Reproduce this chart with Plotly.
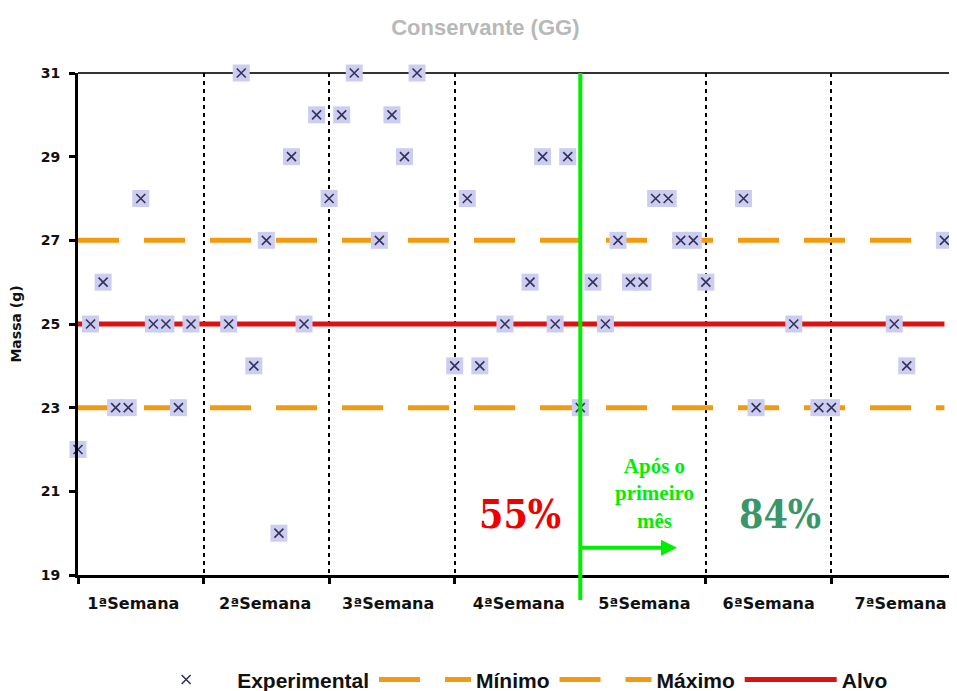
import plotly.graph_objects as go

# amostras (0..69), 10 por semana; None = sem ponto
SAMPLE_IDX = list(range(70))
MASSA = [
    22, 25, 26, 23, 23, 28, 25, 25, 23, 25,
    None, None, 25, 31, 24, 27, 20, 29, 25, 30,
    28, 30, 31, None, 27, 30, 29, 31, None, None,
    24, 28, 24, None, 25, None, 26, 29, 25, 29,
    23, 26, 25, 27, 26, 26, 28, 28, 27, 27,
    26, None, None, 28, 23, None, None, 25, None, 23,
    23, None, None, None, None, 25, 24, None, None, 27,
]
WEEK_LABELS = ["1ªSemana", "2ªSemana", "3ªSemana", "4ªSemana",
               "5ªSemana", "6ªSemana", "7ªSemana"]
WEEK_CENTERS = [4.4, 14.9, 24.7, 35.1, 45.1, 55, 65.5]
MINIMO = 23
MAXIMO = 27
ALVO = 25
SPLIT_AT = 40  # inicio da 5ª semana
PCT_ANTES = "55%"
PCT_DEPOIS = "84%"

X_RANGE = [0, 70]
n = len(SAMPLE_IDX)

fig = go.Figure()

orange = "#f29b11"
fig.add_trace(go.Scatter(x=SAMPLE_IDX, y=[MINIMO] * n, mode="lines", name="Mínimo",
                         line=dict(color=orange, width=5, dash="41px,25px"), legendrank=2))
fig.add_trace(go.Scatter(x=SAMPLE_IDX, y=[MAXIMO] * n, mode="lines", name="Máximo",
                         line=dict(color=orange, width=5, dash="41px,25px"), legendrank=3))
fig.add_trace(go.Scatter(x=SAMPLE_IDX, y=[ALVO] * n, mode="lines", name="Alvo",
                         line=dict(color="#dd1111", width=5), legendrank=4))

# quadrado lilas por baixo + x escuro
fig.add_trace(go.Scatter(x=SAMPLE_IDX, y=MASSA, mode="markers", showlegend=False,
                         cliponaxis=False,
                         marker=dict(symbol="square", size=17, color="#cdcdf2",
                                     line=dict(width=0)), hoverinfo="skip"))
fig.add_trace(go.Scatter(x=SAMPLE_IDX, y=MASSA, mode="markers", name="Experimental",
                         cliponaxis=False,
                         marker=dict(symbol="x-thin", size=9, color="#33335a",
                                     line=dict(width=1.6, color="#33335a")),
                         legendrank=1))

xp = (SPLIT_AT - X_RANGE[0]) / (X_RANGE[1] - X_RANGE[0])
# linha verde vertical
fig.add_shape(type="line", xref="paper", yref="paper", x0=xp, x1=xp, y0=-0.05, y1=1,
              line=dict(color="#00ee00", width=4), layer="above")
# borda superior
fig.add_shape(type="line", xref="paper", yref="paper", x0=0, x1=1, y0=1, y1=1,
              line=dict(color="#333333", width=2), layer="below")

fig.add_annotation(x=SPLIT_AT + 7.7, y=19.65, ax=SPLIT_AT, ay=19.65, xref="x", yref="y",
                   axref="x", ayref="y", text="", showarrow=True, arrowhead=2,
                   arrowsize=0.8, arrowwidth=4, arrowcolor="#00ee00")
fig.add_annotation(x=SPLIT_AT + 5.9, y=20.95, xref="x", yref="y", showarrow=False,
                   text="<b>Após o<br>primeiro<br>mês</b>",
                   font=dict(family="Liberation Serif", size=21, color="#00ee00"))
fig.add_annotation(x=35.2, y=20.45, xref="x", yref="y", showarrow=False,
                   text="<b>" + PCT_ANTES + "</b>",
                   font=dict(family="DejaVu Serif Condensed, DejaVu Serif", size=39,
                             color="#ee0000"))
fig.add_annotation(x=55.9, y=20.45, xref="x", yref="y", showarrow=False,
                   text="<b>" + PCT_DEPOIS + "</b>",
                   font=dict(family="DejaVu Serif Condensed, DejaVu Serif", size=39,
                             color="#3a9568"))

# a página tem 8px de margem no body: figura um pouco menor
fig.update_layout(
    width=949, height=683,
    margin=dict(l=70, r=0, t=65, b=116, autoexpand=False),
    paper_bgcolor="white", plot_bgcolor="white",
    title=dict(text="<b>Conservante (GG)</b>", x=0.503, xanchor="center", y=0.972,
               yanchor="middle",
               font=dict(family="Liberation Sans Narrow, Liberation Sans", size=22,
                         color="#b8b8b8")),
    legend=dict(orientation="h", x=0.065, xanchor="left", y=-0.168, yanchor="top",
                font=dict(family="Liberation Sans Narrow, Liberation Sans", size=21,
                          color="#111111", weight="bold"),
                itemwidth=92, traceorder="normal"),
    showlegend=True,
)

fig.update_xaxes(
    range=X_RANGE, tickmode="array", tickvals=WEEK_CENTERS, ticktext=WEEK_LABELS,
    ticks="", showgrid=False, zeroline=False, automargin=False,
    showline=True, linecolor="black", linewidth=3,
    tickfont=dict(family="DejaVu Sans", size=16, color="#111111", weight="bold"),
    ticklabelstandoff=12,
    minor=dict(tickmode="linear", tick0=0, dtick=10, ticks="outside", ticklen=6,
               tickwidth=3, tickcolor="black", showgrid=True, gridcolor="black",
               gridwidth=2, griddash="4px,4px"),
)
fig.update_yaxes(
    range=[19, 31], tickmode="linear", tick0=19, dtick=2, automargin=False,
    ticks="outside", ticklen=6, tickwidth=3, tickcolor="black",
    showgrid=False, zeroline=False,
    showline=True, linecolor="black", linewidth=3,
    tickfont=dict(family="DejaVu Sans", size=14, color="#111111", weight="bold"),
    ticklabelstandoff=6,
    title=dict(text="Massa (g)", standoff=20,
               font=dict(family="DejaVu Sans", size=14, color="#111111", weight="bold")),
)

fig.write_html("out.html")
